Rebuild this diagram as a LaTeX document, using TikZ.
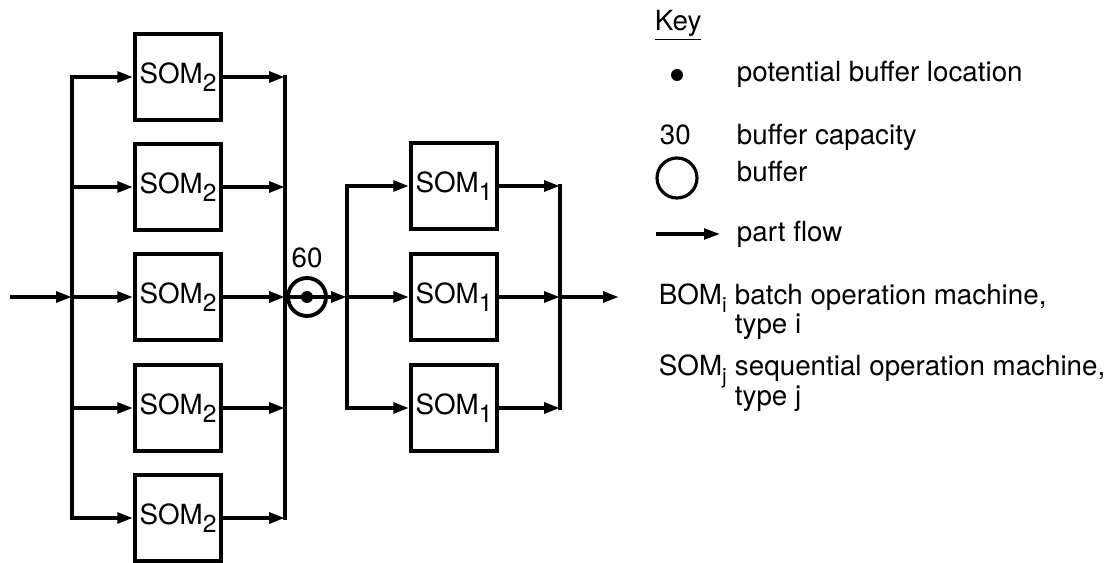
\documentclass[tikz,border=0pt]{standalone}
\usepackage{fontspec}
\setmainfont{TeX Gyre Heros}
\usetikzlibrary{arrows.meta}

\newcommand{\lowidx}[1]{\raisebox{-4.5pt}{\fontsize{14}{14}\selectfont #1}}
\newcommand{\keyidx}[1]{\raisebox{-4pt}{\fontsize{12}{12}\selectfont #1}}

\begin{document}
\begin{tikzpicture}[x=0.02cm, y=-0.02cm, line width=2.2pt,
		font=\fontsize{15.8}{18}\selectfont,
		flow/.style={-{Triangle[length=9pt, width=6pt]}},
		machine/.style={draw, minimum width=1.72cm, minimum height=1.72cm, inner sep=0pt},
		keytext/.style={anchor=base west, inner sep=0pt}]
	\useasboundingbox (0, 0) rectangle (1111, 563);

	% first stage: five SOM_2 side by side
	\foreach \y [count=\i] in {77, 187, 297, 408, 518} {
		\node [machine] (somb\i) at (178, \y) {SOM\lowidx{2}};
		\coordinate (split\i) at (72, \y);
		\coordinate (merge\i) at (285, \y);
		\draw [flow] (split\i) -- (somb\i);
		\draw [flow] (somb\i) -- (merge\i);
	}
	\draw [line cap=rect] (split1) -- (split5);
	\draw [line cap=rect] (merge1) -- (merge5);
	\coordinate (src) at (10, 297);
	\draw [flow] (src) -- (split3);

	% second stage: three SOM_1
	\foreach \y [count=\i] in {186, 297, 408} {
		\node [machine] (soma\i) at (454, \y) {SOM\lowidx{1}};
		\coordinate (splitb\i) at (347, \y);
		\coordinate (mergeb\i) at (560, \y);
		\draw [flow] (splitb\i) -- (soma\i);
		\draw [flow] (soma\i) -- (mergeb\i);
	}
	\draw [line cap=rect] (splitb1) -- (splitb3);
	\draw [line cap=rect] (mergeb1) -- (mergeb3);
	\coordinate (sink) at (619, 297);
	\draw [flow] (mergeb2) -- (sink);

	% buffer between the stages
	\draw [flow] (merge3) -- (splitb2);
	\node [circle, draw, minimum size=0.76cm, inner sep=0pt] (buf) at (307, 297) {};
	\fill (buf.center) circle (6);
	\node (bufcap) at (307, 258) {60};

	% key
	\node [keytext] (keyhead) at (653, 31) {\underline{Key}};
	\node [circle, fill, inner sep=0pt, minimum size=0.24cm] (keydot) at (677, 75) {};
	\node [keytext] (dottxt) at (735, 82) {potential buffer location};
	\node [keytext] (keycap) at (658, 145) {30};
	\node [keytext] (captxt) at (735, 145) {buffer capacity};
	\node [circle, draw, line width=1.8pt, minimum size=0.8cm, inner sep=0pt] (keybuf) at (677, 178) {};
	\node [keytext] (buftxt) at (735, 182) {buffer};
	\coordinate (keyfrom) at (656, 234);
	\coordinate (keyto) at (720, 234);
	\draw [flow, line width=1.8pt] (keyfrom) -- (keyto);
	\node [keytext] (flowtxt) at (735, 242) {part flow};
	\node [keytext] (bomsym) at (657, 305) {BOM\keyidx{i}};
	\node [keytext] (bomtxt) at (733, 305) {batch operation machine,};
	\node [keytext] (bomtype) at (733, 334) {type i};
	\node [keytext] (somsym) at (657, 376) {SOM\keyidx{j}};
	\node [keytext] (somtxt) at (733, 376) {sequential operation machine,};
	\node [keytext] (somtype) at (733, 405) {type j};
\end{tikzpicture}
\end{document}
